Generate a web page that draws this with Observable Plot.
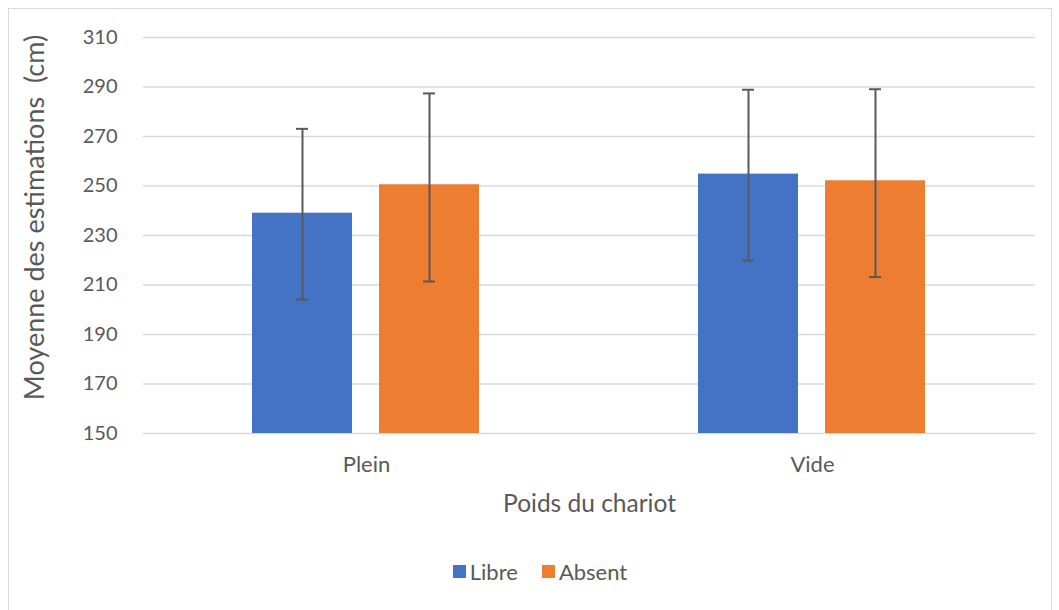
<!DOCTYPE html>
<html>
<head>
<meta charset="utf-8">
<script src="https://cdn.jsdelivr.net/npm/d3@7"></script>
<script src="https://cdn.jsdelivr.net/npm/@observablehq/plot@0.6"></script>
<style>
  html, body { margin: 0; padding: 0; background: #fff; }
  #frame {
    position: absolute; left: 8px; top: 8px;
    width: 1042px; height: 610px;
    border: 1px solid #d9d9d9;
    font-family: Lato, "Open Sans", sans-serif;
    color: #595959;
  }
  #legend {
    display: flex; justify-content: center; align-items: center;
    gap: 24px; font-size: 22px; color: #595959; margin-top: 19px;
    padding-left: 20px;
  }
  #legend .item { display: flex; align-items: center; gap: 4px; }
  #legend .sw { width: 13px; height: 13px; display: inline-block; }
</style>
</head>
<body>
<div id="frame"><div id="chart"></div><div id="legend"></div></div>
<script>
const categories = ["Plein", "Vide"];
const series = ["Libre", "Absent"];
const libreMean = [239.0, 254.8];
const absentMean = [250.5, 252.1];
const libreLow = [204.1, 219.9];
const libreHigh = [273.1, 288.9];
const absentLow = [211.4, 213.2];
const absentHigh = [287.4, 289.1];
const yTicks = [150, 170, 190, 210, 230, 250, 270, 290, 310];
const colors = ["#4472C4", "#ED7D31"];
const yTitle = "Moyenne des estimations  (cm)";
const xTitle = "Poids du chariot";

const data = [];
categories.forEach((c, i) => {
  data.push({cat: c, series: "Libre", value: libreMean[i], low: libreLow[i], high: libreHigh[i]});
  data.push({cat: c, series: "Absent", value: absentMean[i], low: absentLow[i], high: absentHigh[i]});
});
const yMin = yTicks[0];

const chart = Plot.plot({
  width: 1042,
  height: 530,
  marginTop: 28,
  marginLeft: 133,
  marginRight: 16,
  marginBottom: 106,
  style: {fontFamily: "Lato, 'Open Sans', sans-serif", color: "#595959", background: "#fff"},
  fx: {domain: categories, padding: 0},
  x: {domain: series, paddingInner: 0.211, paddingOuter: 0.852, axis: null},
  y: {domain: [yTicks[0], yTicks[yTicks.length - 1]]},
  color: {domain: series, range: colors},
  marks: [
    Plot.gridY(yTicks, {stroke: "#d9d9d9", strokeOpacity: 1, strokeWidth: 1.5}),
    Plot.axisY(yTicks, {tickSize: 0, tickPadding: 26, fontSize: 20, label: yTitle, labelAnchor: "center", labelArrow: "none", labelOffset: 119}),
    Plot.axisFx({anchor: "bottom", tickSize: 0, tickPadding: 23, fontSize: 22, label: xTitle, labelAnchor: "center", labelArrow: "none", labelOffset: 78}),
    Plot.barY(data, {fx: "cat", x: "series", y1: () => yMin, y2: "value", fill: "series"}),
    Plot.ruleX(data, {fx: "cat", x: "series", y1: "low", y2: "high", stroke: "#595959", strokeWidth: 2}),
    Plot.tickY(data, {fx: "cat", x: "series", y: "low", stroke: "#595959", strokeWidth: 2, inset: 44}),
    Plot.tickY(data, {fx: "cat", x: "series", y: "high", stroke: "#595959", strokeWidth: 2, inset: 44})
  ]
});
d3.select(chart).selectAll('g[aria-label="y-axis label"] text')
  .attr("font-size", 27).attr("dx", 18);
d3.select(chart).selectAll('g[aria-label="fx-axis label"] text')
  .attr("font-size", 24.5);
document.getElementById("chart").appendChild(chart);

const legend = document.getElementById("legend");
series.forEach((s, i) => {
  const item = document.createElement("div");
  item.className = "item";
  const sw = document.createElement("span");
  sw.className = "sw";
  sw.style.background = colors[i];
  const t = document.createElement("span");
  t.textContent = s;
  item.appendChild(sw);
  item.appendChild(t);
  legend.appendChild(item);
});
</script>
</body>
</html>
